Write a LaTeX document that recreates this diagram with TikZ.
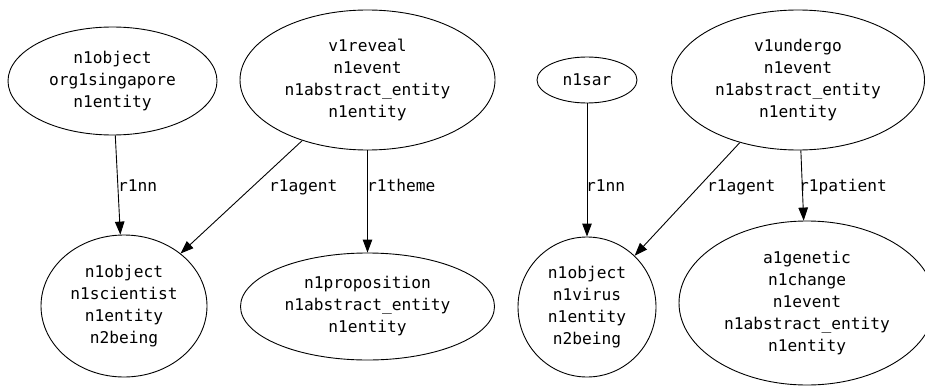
\documentclass[tikz,border=0pt]{standalone}
\usepackage{fontspec}
\setmonofont{DejaVu Sans Mono}
\usetikzlibrary{shapes.geometric,arrows.meta}
\begin{document}
\begin{tikzpicture}[x=1pt,y=-1pt,
  concept/.style={draw=black,line width=0.9pt,ellipse,inner sep=0pt,align=center,
    font=\ttfamily\fontsize{16.2}{22}\selectfont},
  rel/.style={draw=black,line width=0.9pt,-{Triangle[length=13pt,width=9.5pt]}},
  rellabel/.style={inner sep=0pt,anchor=base west,font=\ttfamily\fontsize{16.2}{22}\selectfont}]
  \useasboundingbox (0,0) rectangle (925,385);
  % left graph
  \node[concept,minimum width=209,minimum height=108] (sg) at (112.5,81) {n1object\\org1singapore\\n1entity};
  \node[concept,minimum width=255,minimum height=140] (rev) at (367.5,80) {v1reveal\\n1event\\n1abstract\_entity\\n1entity};
  \node[concept,minimum width=166,minimum height=142] (sci) at (124,306) {n1object\\n1scientist\\n1entity\\n2being};
  \node[concept,minimum width=254,minimum height=107] (prop) at (367.5,306.5) {n1proposition\\n1abstract\_entity\\n1entity};
  % right graph
  \node[concept,minimum width=100,minimum height=46] (sar) at (587,80) {n1sar};
  \node[concept,minimum width=253,minimum height=140] (und) at (798,80) {v1undergo\\n1event\\n1abstract\_entity\\n1entity};
  \node[concept,minimum width=138,minimum height=140] (vir) at (587,307) {n1object\\n1virus\\n1entity\\n2being};
  \node[concept,minimum width=256,minimum height=164] (gen) at (807,303) {a1genetic\\n1change\\n1event\\n1abstract\_entity\\n1entity};
  % relations
  \draw[rel] (sg) -- (sci);
  \draw[rel] (rev) -- (sci);
  \draw[rel] (rev) -- (prop);
  \draw[rel] (sar) -- (vir);
  \draw[rel] (und) -- (vir);
  \draw[rel] (und) -- (gen);
  % relation labels
  \node[rellabel] (l1) at (118,191) {r1nn};
  \node[rellabel] (l2) at (269,191) {r1agent};
  \node[rellabel] (l3) at (367,191) {r1theme};
  \node[rellabel] (l4) at (586,191) {r1nn};
  \node[rellabel] (l5) at (707,191) {r1agent};
  \node[rellabel] (l6) at (799,191) {r1patient};
\end{tikzpicture}
\end{document}
